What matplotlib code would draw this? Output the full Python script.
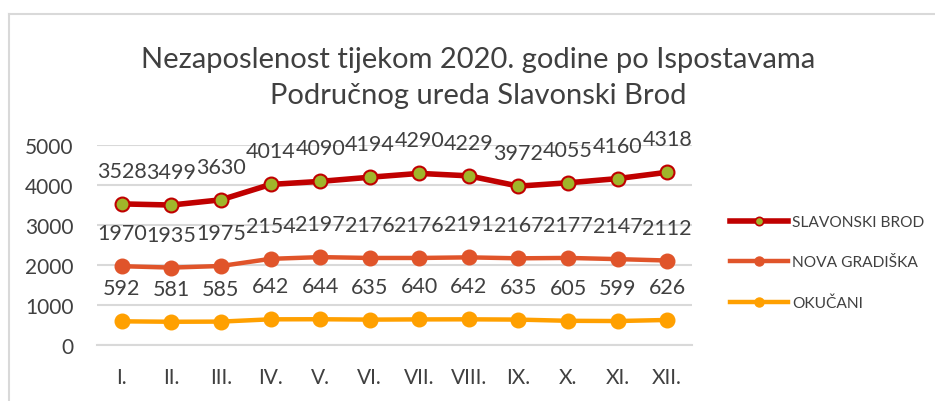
import matplotlib
matplotlib.use("Agg")
import matplotlib.pyplot as plt
from matplotlib.lines import Line2D

plt.rcParams['font.family'] = ['Lato', 'DejaVu Sans']

months = ["I.", "II.", "III.", "IV.", "V.", "VI.", "VII.", "VIII.", "IX.", "X.", "XI.", "XII."]
slavonski_brod = [3528, 3499, 3630, 4014, 4090, 4194, 4290, 4229, 3972, 4055, 4160, 4318]
nova_gradiska = [1970, 1935, 1975, 2154, 2197, 2176, 2176, 2191, 2167, 2177, 2147, 2112]
okucani = [592, 581, 585, 642, 644, 635, 640, 642, 635, 605, 599, 626]
series_names = ["SLAVONSKI BROD", "NOVA GRADIŠKA", "OKUČANI"]
title = "Nezaposlenost tijekom 2020. godine po Ispostavama\nPodručnog ureda Slavonski Brod"

W, H = 935, 402
fig = plt.figure(figsize=(W / 100, H / 100), dpi=100)
txt = "#404040"

ax = fig.add_axes([97 / W, (H - 346) / H, 595 / W, 200 / H])
x = list(range(len(months)))
ax.set_xlim(-0.5, len(months) - 0.5)
ax.set_ylim(0, 5000)
ax.set_yticks([0, 1000, 2000, 3000, 4000, 5000])
ax.set_xticks(x)
ax.set_xticklabels(months)
ax.grid(axis='y', color='#d9d9d9', linewidth=1.5)
ax.set_axisbelow(True)
for s in ['top', 'right', 'left']:
    ax.spines[s].set_visible(False)
ax.spines['bottom'].set_color('#d9d9d9')
ax.spines['bottom'].set_linewidth(1.5)
ax.tick_params(axis='both', length=0, labelsize=15, colors=txt)
ax.tick_params(axis='y', pad=17)
ax.tick_params(axis='x', pad=16)

red = "#C00000"
ng = "#E0542A"
ok = "#FFA000"
green = "#A0B52A"

l1, = ax.plot(x, slavonski_brod, color=red, lw=4, marker='o', ms=10,
              mfc=green, mec=red, mew=1.5, clip_on=False, zorder=5)
l2, = ax.plot(x, nova_gradiska, color=ng, lw=3.2, marker='o', ms=10.5,
              mfc=ng, mec=ng, clip_on=False, zorder=4)
l3, = ax.plot(x, okucani, color=ok, lw=3.2, marker='o', ms=10.5,
              mfc=ok, mec=ok, clip_on=False, zorder=3)

for series in (slavonski_brod, nova_gradiska, okucani):
    for xi, v in zip(x, series):
        ax.annotate(str(v), (xi, v), xytext=(0, 33), textcoords='offset pixels',
                    ha='center', va='center', fontsize=15.5, color=txt, zorder=6)

fig.text(478 / W, 1 - 78 / H, title, ha='center', va='center', fontsize=21,
         color=txt, linespacing=1.45)

h1 = Line2D([], [], color=red, lw=4, marker='o', ms=6, mfc=green, mec=red, mew=1.2)
h2 = Line2D([], [], color=ng, lw=3.2, marker='o', ms=6.5, mfc=ng, mec=ng)
h3 = Line2D([], [], color=ok, lw=3.2, marker='o', ms=6.5, mfc=ok, mec=ok)
leg = fig.legend([h1, h2, h3], series_names, loc='upper left',
                 bbox_to_anchor=(730 / W, 1 - 216 / H), frameon=False,
                 fontsize=11.2, handlelength=3.7, handletextpad=0.3,
                 labelspacing=1.7, borderpad=0, borderaxespad=0)
for t in leg.get_texts():
    t.set_color(txt)

# outer chart border (top and left only visible)
fig.add_artist(Line2D([9 / W, 9 / W], [0, 1 - 15 / H], transform=fig.transFigure,
                      color='#d9d9d9', lw=1.5))
fig.add_artist(Line2D([9 / W, 1], [1 - 15 / H, 1 - 15 / H], transform=fig.transFigure,
                      color='#d9d9d9', lw=1.5))

fig.savefig("out.png", dpi=100)
